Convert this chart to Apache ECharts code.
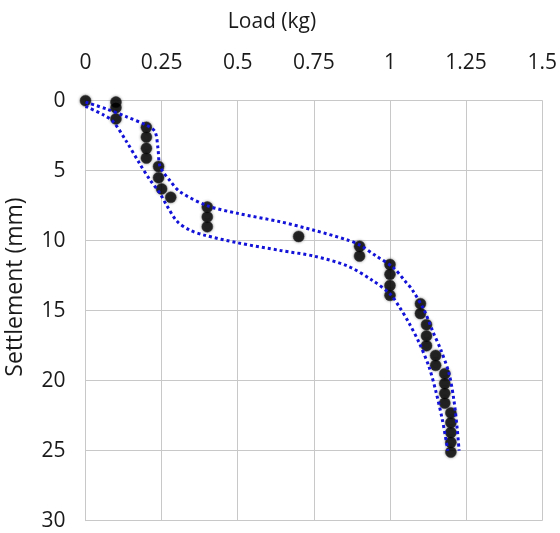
<!DOCTYPE html>
<html>
<head>
<meta charset="utf-8">
<script src="https://cdn.jsdelivr.net/npm/echarts@6/dist/echarts.min.js"></script>
<style>
html,body{margin:0;padding:0;background:#fff;}
#chart{width:560px;height:533px;}
</style>
</head>
<body>
<div id="chart"></div>
<script>
// Axis ticks
var loadTicks = [0, 0.25, 0.5, 0.75, 1, 1.25, 1.5];
var settleTicks = [0, 5, 10, 15, 20, 25, 30];

// Measured points
var pointLoad = [0, 0.1, 0.1, 0.1, 0.2, 0.2, 0.2, 0.2, 0.24, 0.24, 0.25, 0.28, 0.4, 0.4, 0.4, 0.7, 0.9, 0.9, 1, 1, 1, 1, 1.1, 1.1, 1.12, 1.12, 1.12, 1.15, 1.15, 1.18, 1.18, 1.18, 1.18, 1.2, 1.2, 1.2, 1.2, 1.2];
var pointSettle = [0, 0.1, 0.5, 1.3, 1.9, 2.6, 3.4, 4.1, 4.7, 5.5, 6.3, 6.9, 7.6, 8.3, 9.0, 9.7, 10.4, 11.1, 11.7, 12.4, 13.2, 13.9, 14.5, 15.2, 16.0, 16.8, 17.5, 18.2, 18.9, 19.5, 20.2, 20.9, 21.6, 22.3, 23.0, 23.7, 24.4, 25.1];

// Upper envelope (dotted)
var upperLoad = [0, 0.07, 0.135, 0.2, 0.228, 0.238, 0.245, 0.277, 0.31, 0.4, 0.5, 0.64, 0.75, 0.86, 0.9, 0.955, 1.01, 1.05, 1.073, 1.112, 1.139, 1.167, 1.194, 1.21, 1.221, 1.227];
var upperSettle = [0.1, 0.6, 1.15, 1.75, 2.2, 3.4, 4.7, 5.7, 6.5, 7.5, 8.05, 8.65, 9.25, 9.95, 10.3, 11.1, 11.9, 12.9, 13.5, 14.95, 16.4, 17.8, 19.5, 21.4, 23.5, 25.0];

// Lower envelope (dotted)
var lowerLoad = [0, 0.058, 0.091, 0.135, 0.178, 0.21, 0.244, 0.266, 0.3, 0.342, 0.39, 0.5, 0.64, 0.75, 0.86, 0.94, 1.0, 1.03, 1.063, 1.096, 1.128, 1.15, 1.172, 1.19];
var lowerSettle = [0.4, 1.0, 1.5, 2.93, 4.5, 5.6, 6.6, 7.45, 8.6, 9.24, 9.6, 10.15, 10.7, 11.1, 11.8, 12.8, 13.8, 14.7, 15.9, 17.3, 19.0, 20.7, 22.8, 25.0];

function pairs(a, b) { return a.map(function (v, i) { return [v, b[i]]; }); }

var FONT = '"Open Sans", "DejaVu Sans", sans-serif';
var chart = echarts.init(document.getElementById('chart'), null, {renderer: 'canvas'});
var dotted = {color: '#1212d8', width: 3, type: [3, 3], cap: 'butt'};

chart.setOption({
  animation: false,
  backgroundColor: '#ffffff',
  grid: {left: 85.5, right: 16, top: 100.7, bottom: 12.3, containLabel: false},
  xAxis: {
    type: 'value', position: 'top',
    min: loadTicks[0], max: loadTicks[loadTicks.length - 1], interval: 0.25,
    axisLine: {show: true, lineStyle: {color: '#c8c8c8', width: 1}},
    axisTick: {show: false},
    splitLine: {show: true, lineStyle: {color: '#c8c8c8', width: 1}},
    axisLabel: {margin: 27, fontSize: 21, color: '#1a1a1a', fontFamily: FONT,
      formatter: function (v) { return String(+v.toFixed(2)); }}
  },
  yAxis: {
    type: 'value', inverse: true,
    min: settleTicks[0], max: settleTicks[settleTicks.length - 1], interval: 5,
    axisLine: {show: true, lineStyle: {color: '#c8c8c8', width: 1}},
    axisTick: {show: false},
    splitLine: {show: true, lineStyle: {color: '#c8c8c8', width: 1}},
    axisLabel: {margin: 20, fontSize: 21, color: '#1a1a1a', fontFamily: FONT}
  },
  graphic: [
    {type: 'text', x: 272, y: 22, z: 100,
     style: {text: 'Load (kg)', font: '21px ' + FONT, fill: '#1a1a1a', align: 'center', verticalAlign: 'middle'}},
    {type: 'text', x: 15, y: 287, rotation: Math.PI / 2, z: 100,
     style: {text: 'Settlement (mm)', font: '23px ' + FONT, fill: '#1a1a1a', align: 'center', verticalAlign: 'middle'}}
  ],
  series: [
    {type: 'scatter', data: pairs(pointLoad, pointSettle), symbol: 'circle', symbolSize: 11, z: 2,
     itemStyle: {color: '#000000', borderColor: 'rgba(40,40,40,0.55)', borderWidth: 1,
       shadowBlur: 3, shadowColor: 'rgba(0,0,0,0.45)'}},
    {type: 'line', data: pairs(upperLoad, upperSettle), smooth: 0.3, showSymbol: false, symbol: 'none', z: 3,
     lineStyle: dotted},
    {type: 'line', data: pairs(lowerLoad, lowerSettle), smooth: 0.3, showSymbol: false, symbol: 'none', z: 3,
     lineStyle: dotted}
  ]
});
</script>
</body>
</html>
